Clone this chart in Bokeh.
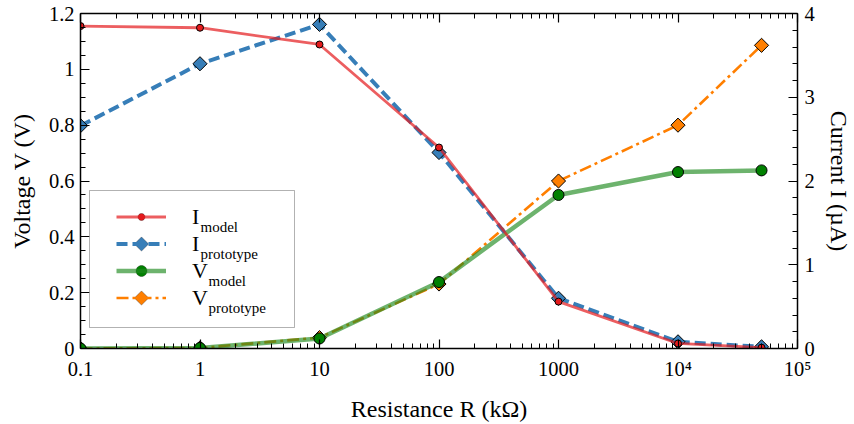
import numpy as np
from bokeh.plotting import figure
from bokeh.models import (Range1d, LinearAxis, LogAxis, FixedTicker, Legend, LegendItem,
                          Label, BoxAnnotation, PolyAnnotation)
from bokeh.embed import file_html
from bokeh.resources import INLINE

# ---- data ----
resistance = [0.1, 1, 10, 100, 1000, 10000, 50000]          # kOhm
i_model = [3.85, 3.83, 3.63, 2.40, 0.56, 0.06, 0.01]          # uA
i_proto = [2.66, 3.40, 3.87, 2.34, 0.60, 0.08, 0.02]          # uA
v_model = [0.0, 0.002, 0.036, 0.238, 0.55, 0.632, 0.638]      # V
v_proto = [0.0, 0.002, 0.039, 0.231, 0.60, 0.80, 1.086]       # V

x_major = [0.1, 1, 10, 100, 1000, 10000, 100000]
x_labels = ["0.1", "1", "10", "100", "1000", "10\u2074", "10\u2075"]
v_major = [0, 0.2, 0.4, 0.6, 0.8, 1.0, 1.2]
v_labels = ["0", "0.2", "0.4", "0.6", "0.8", "1", "1.2"]
i_major = [0, 1, 2, 3, 4]

FONT = "Times"

p = figure(width=854, height=424, x_axis_type="log",
           x_range=Range1d(0.1, 1e5), y_range=Range1d(0, 1.2),
           output_backend="svg", toolbar_location=None,
           min_border_left=80, min_border_right=57, min_border_top=13, min_border_bottom=73)
p.extra_y_ranges = {"I": Range1d(0, 4)}
p.grid.visible = False
p.outline_line_color = None

minor = [m * d for d in x_major[:-1] for m in range(2, 10)]

def style(ax, labels=True):
    ax.axis_line_color = "black"
    ax.axis_line_width = 1.5
    ax.major_tick_in = 9
    ax.major_tick_out = 0
    ax.minor_tick_in = 5
    ax.minor_tick_out = 0
    ax.major_tick_line_color = "black"
    ax.minor_tick_line_color = "black"
    ax.major_tick_line_width = 1.2
    ax.minor_tick_line_width = 1.0
    ax.major_label_text_font = FONT
    ax.major_label_text_font_size = "20.5px" if labels else "1px"
    ax.major_label_text_color = "black"
    if not labels:
        ax.major_label_text_alpha = 0
    ax.axis_label_text_font = FONT
    ax.axis_label_text_font_size = "24px"
    ax.axis_label_text_font_style = "normal"
    ax.axis_label_text_color = "black"

# bottom x axis
xa = p.xaxis[0]
xa.ticker = FixedTicker(ticks=x_major, minor_ticks=minor)
xa.major_label_overrides = dict(zip(x_major, x_labels))
xa.axis_label = "Resistance R (kΩ)"
style(xa)
xa.major_label_standoff = 9
xa.axis_label_standoff = 13

# top axis (ticks only)
ta = LogAxis(ticker=FixedTicker(ticks=x_major, minor_ticks=minor))
style(ta, labels=False)
ta.major_label_standoff = 0
p.add_layout(ta, "above")

# left y axis
ya = p.yaxis[0]
ya.ticker = FixedTicker(ticks=v_major,
                        minor_ticks=[round(0.05 * k, 3) for k in range(25)])
ya.major_label_overrides = dict(zip(v_major, v_labels))
ya.axis_label = "Voltage V (V)"
style(ya)
ya.major_label_standoff = 6
ya.axis_label_standoff = 11

# right y axis
ra = LinearAxis(y_range_name="I",
                ticker=FixedTicker(ticks=i_major,
                                   minor_ticks=[round(0.2 * k, 3) for k in range(21)]))
ra.axis_label = "Current I (µA)"
style(ra)
ra.major_label_standoff = 7
ra.axis_label_standoff = 8
p.add_layout(ra, "right")

# ---- series ----
c_red, c_blue, c_green, c_orange = "#e41a1c", "#377eb8", "#1f8a1f", "#ff7f00"
DIAM = 10  # square side (rotated 45 deg -> diamond)

lo = p.line(resistance, v_proto, line_color=c_orange, line_width=2.6, line_dash="12 4 3 4")
so = p.scatter(resistance, v_proto, marker="square", angle=np.pi / 4, size=DIAM,
               fill_color=c_orange, line_color="black", line_width=1)
lg = p.line(resistance, v_model, line_color=c_green, line_width=4.5, line_alpha=0.65)
sg = p.scatter(resistance, v_model, marker="circle", size=11,
               fill_color="#008000", line_color="black", line_width=1)
lb = p.line(resistance, i_proto, y_range_name="I", line_color=c_blue, line_width=4,
            line_dash="11 5")
sb = p.scatter(resistance, i_proto, y_range_name="I", marker="square", angle=np.pi / 4, size=DIAM,
               fill_color=c_blue, line_color="black", line_width=1)
lr = p.line(resistance, i_model, y_range_name="I", line_color=c_red, line_width=2.8,
            line_alpha=0.7)
sr = p.scatter(resistance, i_model, y_range_name="I", marker="circle", size=7,
               fill_color=c_red, line_color="black", line_width=1)

# ---- legend ----
box = BoxAnnotation(left=9, right=214, bottom=21, top=158,
                    left_units="screen", right_units="screen",
                    bottom_units="screen", top_units="screen",
                    fill_color="white", fill_alpha=1.0,
                    line_color="black", line_width=1)
p.add_layout(box)

names = ["I", "I", "V", "V"]
subs = ["model", "prototype", "model", "prototype"]
items = [LegendItem(label="I", renderers=[lr]),
         LegendItem(label="I", renderers=[lb]),
         LegendItem(label="V", renderers=[lg]),
         LegendItem(label="V", renderers=[lo])]
PAD, GW, STAND, ITEM_H = 14, 50, 26, 27
leg_x, leg_y = 22, 23
leg = Legend(items=items, location=(leg_x, leg_y), padding=PAD, margin=0, spacing=0,
             glyph_width=GW, glyph_height=ITEM_H, label_height=ITEM_H, label_width=60,
             label_standoff=STAND, border_line_alpha=0, background_fill_alpha=0,
             label_text_font=FONT, label_text_font_size="22px", label_text_color="black")
p.add_layout(leg, "center")

legend_h = 2 * PAD + 4 * ITEM_H
top_y = leg_y + legend_h - PAD
text_x = leg_x + PAD + GW + STAND
glyph_cx = leg_x + PAD + GW / 2
# legend marker shapes: (kind, size, fill)
marks = [("circle", 7, c_red), ("diamond", DIAM * 2 ** 0.5, c_blue),
         ("circle", 11, "#008000"), ("diamond", DIAM * 2 ** 0.5, c_orange)]
for k, (nm, sb_txt) in enumerate(zip(names, subs)):
    cy = top_y - ITEM_H * (k + 0.5)
    kind, sz, col = marks[k]
    r = sz / 2
    if kind == "circle":
        ang = np.linspace(0, 2 * np.pi, 33)[:-1]
        xs = list(glyph_cx + r * np.cos(ang))
        ys = list(cy + r * np.sin(ang))
    else:
        xs = [glyph_cx, glyph_cx + r, glyph_cx, glyph_cx - r]
        ys = [cy + r, cy, cy - r, cy]
    p.add_layout(PolyAnnotation(xs=xs, ys=ys, xs_units="screen", ys_units="screen",
                                fill_color=col, fill_alpha=1.0,
                                line_color="black", line_width=1))
    p.add_layout(Label(x=text_x + (8 if nm == "I" else 16), y=cy - 10,
                       x_units="screen", y_units="screen", text=sb_txt,
                       text_font=FONT, text_font_size="15px", text_color="black",
                       text_baseline="alphabetic"))

open("out.html", "w").write(file_html(p, INLINE))
